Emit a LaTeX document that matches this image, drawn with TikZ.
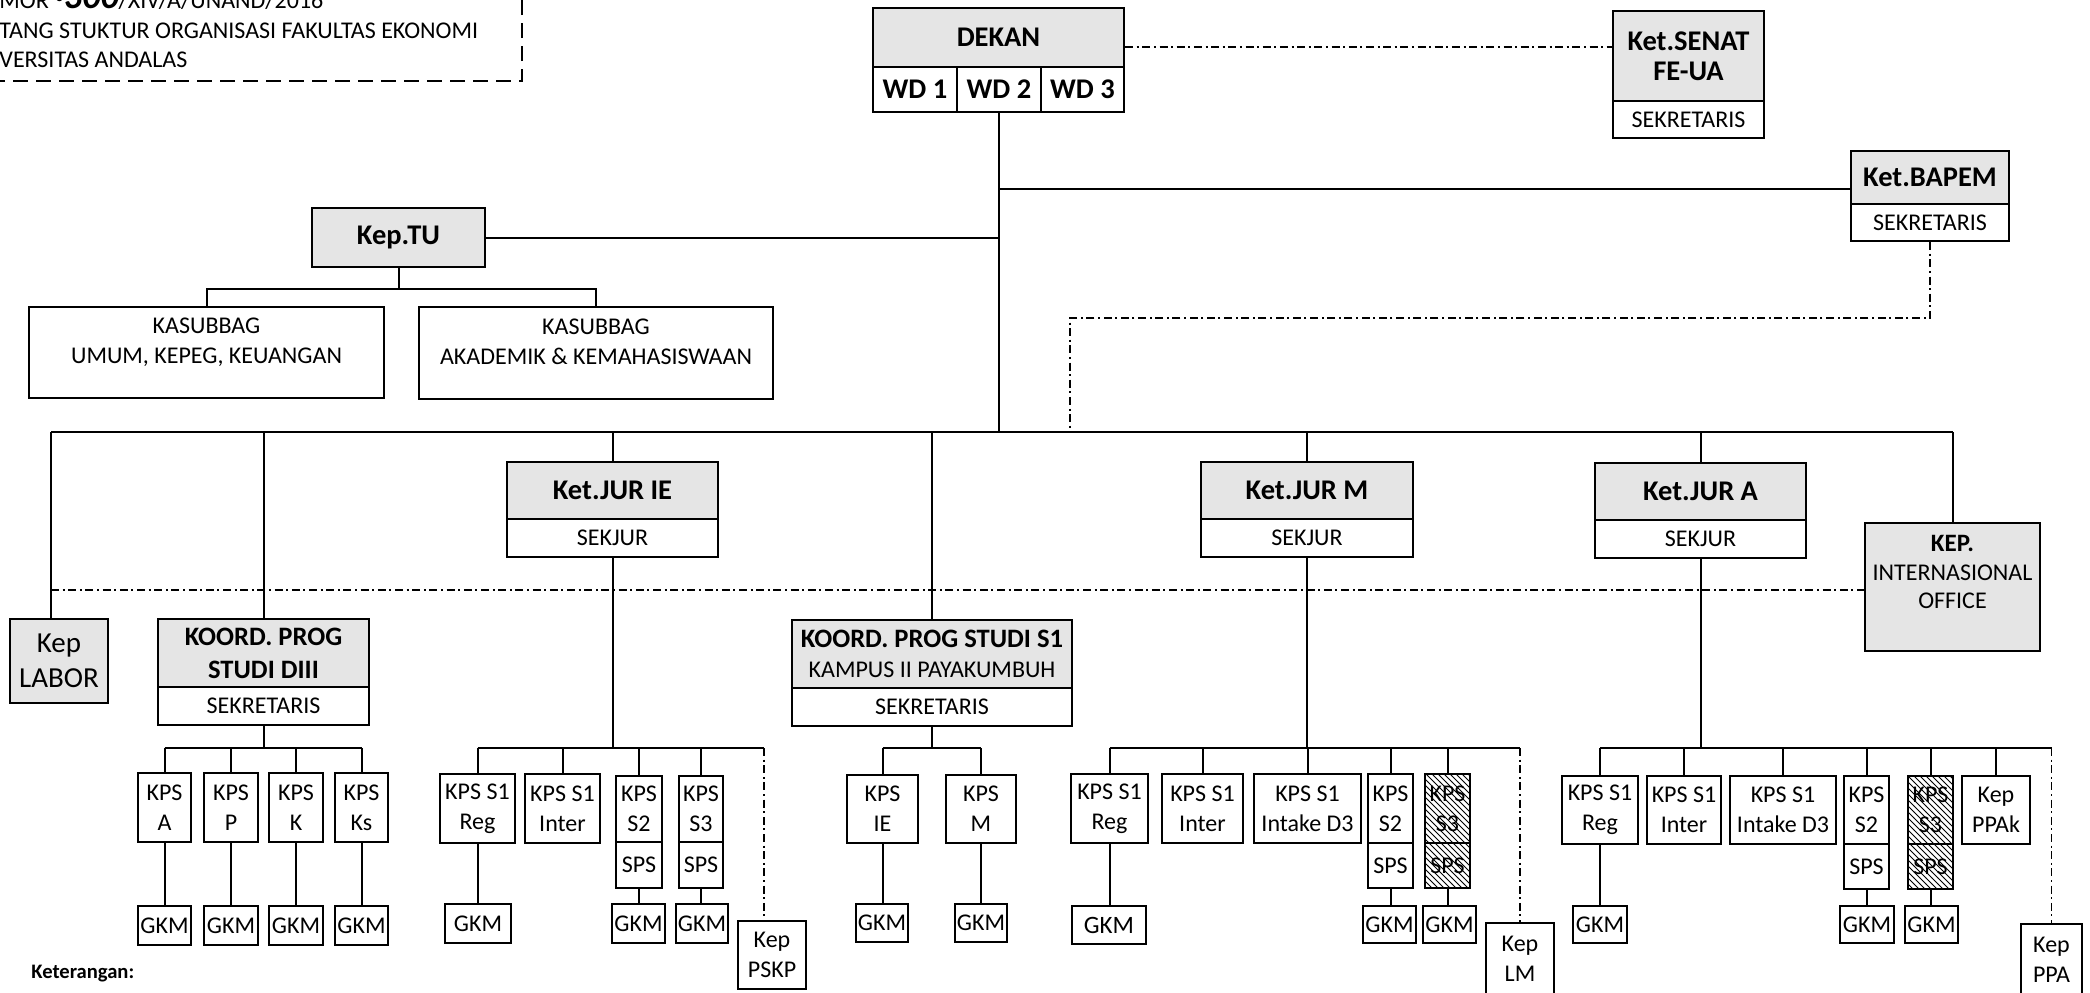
\documentclass[tikz,border=0pt]{standalone}
\usepackage{fontspec}
\setmainfont{Carlito}
\usetikzlibrary{patterns}
\newcommand\regf{\fontsize{12}{15}\selectfont}
\newcommand\ttlf{\fontsize{14.25}{15}\selectfont\bfseries}
\newcommand\kttlf{\fontsize{13.3}{15}\selectfont\bfseries}
\newcommand\BX[7][]{\node[box,#1,minimum width={(#5-#3)*0.5pt},minimum height={(#6-#4)*0.5pt}] (#2) at ({(#3+#5)/2},{(#4+#6)/2}) {#7};}
\begin{document}
\begin{tikzpicture}[x=0.5pt,y=-0.5pt,
 ln/.style={line width=1pt},
 dd/.style={line width=0.9pt,dash pattern=on 4pt off 1.8pt on 1pt off 1.8pt},
 box/.style={draw,line width=1.1pt,inner sep=0pt,align=center,font=\regf},
 gbox/.style={fill=black!10},
 ttl/.style={font=\ttlf},
 hatch/.style={pattern=north west lines,pattern color=black},
 txt/.style={inner sep=0pt,align=center,font=\regf}]
\useasboundingbox (0,0) rectangle (2090,992);
\clip (0,0) rectangle (2090,992);
% header
\draw[line width=1.4pt,dash pattern=on 7.5pt off 4pt] (-10,81) -- (522,81) -- (522,-10);
\node[txt,anchor=base west] (h1) at (-1,8) {MOR {\fontsize{18}{18}\selectfont\bfseries\itshape ·300}/XIV/A/UNAND/2016};
\node[txt,anchor=base west] (h2) at (-1,38) {TANG STUKTUR ORGANISASI FAKULTAS EKONOMI};
\node[txt,anchor=base west] (h3) at (-1,67) {VERSITAS ANDALAS};
% top boxes
\BX[gbox,ttl]{dekan}{873}{8}{1124}{67}{DEKAN}
\BX[ttl]{wda}{873}{67}{957}{112}{WD 1}
\BX[ttl]{wdb}{957}{67}{1041}{112}{WD 2}
\BX[ttl]{wdc}{1041}{67}{1124}{112}{WD 3}
\BX[gbox,ttl]{senat}{1613}{11}{1764}{101}{Ket.SENAT\\FE-UA}
\BX{senats}{1613}{101}{1764}{138}{SEKRETARIS}
\BX[gbox,ttl]{bapem}{1851}{151}{2009}{204}{Ket.BAPEM}
\BX{bapems}{1851}{204}{2009}{241}{SEKRETARIS}
\BX[gbox,ttl]{keptu}{312}{208}{485}{267}{Kep.TU}
\BX{kasa}{29}{307}{384}{398}{}
\node[txt] (kasat) at (206.5,342) {KASUBBAG\\UMUM, KEPEG, KEUANGAN};
\BX{kasb}{419}{307}{773}{399}{}
\node[txt] (kasbt) at (596,342) {KASUBBAG\\AKADEMIK \& KEMAHASISWAAN};
% second level
\BX[gbox,ttl]{jurie}{507}{462}{718}{519}{Ket.JUR IE}
\BX{juries}{507}{519}{718}{557}{SEKJUR}
\BX[gbox,ttl]{jurm}{1201}{462}{1413}{519}{Ket.JUR M}
\BX{jurms}{1201}{519}{1413}{557}{SEKJUR}
\BX[gbox,ttl]{jura}{1595}{463}{1806}{520}{Ket.JUR A}
\BX{juras}{1595}{520}{1806}{558}{SEKJUR}
\BX[gbox]{kepint}{1865}{523}{2040}{651}{}
\node[txt,font=\fontsize{12}{14.25}\selectfont] (kepintt) at (1952.5,572) {{\fontsize{12.5}{14.25}\selectfont\bfseries KEP.}\\INTERNASIONAL\\OFFICE};
\BX[gbox,font=\fontsize{14.5}{17.5}\selectfont]{labor}{10}{619}{108}{703}{Kep\\LABOR}
\BX[gbox,font=\fontsize{13.3}{16.5}\selectfont\bfseries]{diii}{158}{619}{369}{687}{KOORD. PROG\\STUDI DIII}
\BX{diiis}{158}{687}{369}{725}{SEKRETARIS}
\BX[gbox]{sip}{792}{620}{1072}{688}{{\kttlf KOORD. PROG STUDI S1}\\KAMPUS II PAYAKUMBUH}
\BX{sips}{792}{688}{1072}{726}{SEKRETARIS}
% DIII group
\BX{kpsa}{138}{773}{191}{842}{KPS\\A}
\BX{kpsp}{204}{773}{258}{842}{KPS\\P}
\BX{kpsk}{269}{773}{323}{842}{KPS\\K}
\BX{kpsks}{335}{773}{388}{842}{KPS\\Ks}
\BX{ga}{138}{906}{191}{945}{GKM}
\BX{gp}{204}{906}{258}{945}{GKM}
\BX{gk}{269}{906}{323}{945}{GKM}
\BX{gks}{335}{906}{388}{945}{GKM}
% IE group
\BX{iereg}{440}{774}{515}{843}{KPS S1\\Reg}
\BX{ieint}{525}{774}{600}{843}{KPS S1\\Inter}
\BX{ies2}{616}{776}{662}{842}{KPS\\S2}
\BX{ies2s}{616}{842}{662}{888}{SPS}
\BX{ies3}{679}{776}{723}{842}{KPS\\S3}
\BX{ies3s}{679}{842}{723}{888}{SPS}
\BX{iegr}{445}{904}{511}{943}{GKM}
\BX{iegs2}{612}{904}{665}{943}{GKM}
\BX{iegs3}{676}{904}{728}{943}{GKM}
\BX{pskp}{738}{921}{806}{989}{Kep\\PSKP}
% S1 Payakumbuh group
\BX{kie}{847}{775}{918}{843}{KPS\\IE}
\BX{km}{946}{775}{1016}{843}{KPS\\M}
\BX{kieg}{856}{904}{908}{942}{GKM}
\BX{kmg}{955}{904}{1007}{942}{GKM}
% M group
\BX{mreg}{1071}{774}{1148}{843}{KPS S1\\Reg}
\BX{mint}{1162}{774}{1243}{843}{KPS S1\\Inter}
\BX{md3}{1254}{774}{1361}{843}{KPS S1\\Intake D3}
\BX{ms2}{1368}{774}{1413}{843}{KPS\\S2}
\BX{ms2s}{1368}{843}{1413}{888}{SPS}
\BX[hatch]{ms3}{1425}{774}{1470}{843}{KPS\\S3}
\BX[hatch]{ms3s}{1425}{843}{1470}{888}{SPS}
\BX[font=\fontsize{12.5}{15}\selectfont]{mgr}{1072}{906}{1146}{944}{GKM}
\BX{mgs2}{1363}{906}{1416}{943}{GKM}
\BX{mgs3}{1423}{906}{1476}{943}{GKM}
\BX{lm}{1486}{923}{1554}{995}{Kep\\LM}
% A group
\BX{areg}{1562}{776}{1638}{844}{KPS S1\\Reg}
\BX{aint}{1647}{776}{1721}{844}{KPS S1\\Inter}
\BX{ad3}{1730}{776}{1836}{844}{KPS S1\\Intake D3}
\BX{as2}{1844}{776}{1889}{844}{KPS\\S2}
\BX{as2s}{1844}{844}{1889}{889}{SPS}
\BX[hatch]{as3}{1908}{776}{1953}{844}{KPS\\S3}
\BX[hatch]{as3s}{1908}{844}{1953}{889}{SPS}
\BX{ppak}{1962}{776}{2030}{844}{Kep\\PPAk}
\BX{agr}{1573}{906}{1627}{943}{GKM}
\BX{ags2}{1840}{906}{1894}{943}{GKM}
\BX{ags3}{1905}{906}{1958}{943}{GKM}
\BX{ppa}{2021}{924}{2082}{996}{Kep\\PPA}
\node[anchor=base west,inner sep=0pt,font=\fontsize{10.3}{12}\selectfont\bfseries] (ket) at (31,978) {Keterangan:};
% helper coordinates
\coordinate (busL) at (51,432);
\coordinate (busR) at (kepint.north |- busL);
\coordinate (ya) at (0,47);
\coordinate (yb) at (0,189);
\coordinate (yc) at (0,289);
\coordinate (yd) at (0,318);
\coordinate (ye) at (0,590);
\coordinate (yf) at (0,748);
\coordinate (bpx) at (1070,432);
\coordinate (piex) at (764,748);
% top connectors
\draw[dd] (dekan.east |- ya) -- (senat.west |- ya);
\draw[ln] (wdb.south) -- (wdb.south |- busL);
\draw[ln] (wdb.south |- yb) -- (bapem.west |- yb);
\draw[ln] (keptu.east) -- (keptu.east -| wdb.south);
\draw[ln] (keptu.south) -- (keptu.south |- yc);
\draw[ln] (kasa.north) |- (keptu.south |- yc) -| (kasb.north);
\draw[dd] (bapems.south) |- (bpx |- yd) -- (bpx);
\draw[ln] (busL) -- (busR);
\draw[ln] (busL) -- (busL |- labor.north);
\foreach \n in {diii,jurie,sip,jurm,jura,kepint} \draw[ln] (\n.north |- busL) -- (\n.north);
\draw[dd] (busL |- ye) -- (kepint.west |- ye);
% DIII
\draw[ln] (diiis.south) -- (diiis.south |- yf);
\draw[ln] (kpsa.north |- yf) -- (kpsks.north |- yf);
\foreach \a/\b in {kpsa/ga,kpsp/gp,kpsk/gk,kpsks/gks} {\draw[ln] (\a.north |- yf) -- (\a.north); \draw[ln] (\a.south) -- (\a.south |- \b.north);}
% IE
\draw[ln] (juries.south) -- (juries.south |- yf);
\draw[ln] (iereg.north |- yf) -- (piex);
\draw[dd] (piex) -- (piex |- pskp.north);
\foreach \a in {iereg,ieint,ies2,ies3} \draw[ln] (\a.north |- yf) -- (\a.north);
\draw[ln] (iereg.south) -- (iereg.south |- iegr.north);
\draw[ln] (ies2s.south) -- (ies2s.south |- iegs2.north);
\draw[ln] (ies3s.south) -- (ies3s.south |- iegs3.north);
% S1 P
\draw[ln] (sips.south) -- (sips.south |- yf);
\draw[ln] (kie.north |- yf) -- (km.north |- yf);
\foreach \a/\b in {kie/kieg,km/kmg} {\draw[ln] (\a.north |- yf) -- (\a.north); \draw[ln] (\a.south) -- (\a.south |- \b.north);}
% M
\draw[ln] (jurms.south) -- (jurms.south |- yf);
\draw[ln] (mreg.north |- yf) -- (lm.north |- yf);
\draw[dd] (lm.north |- yf) -- (lm.north);
\foreach \a in {mreg,mint,md3,ms2,ms3} \draw[ln] (\a.north |- yf) -- (\a.north);
\draw[ln] (mreg.south) -- (mreg.south |- mgr.north);
\draw[ln] (ms2s.south) -- (ms2s.south |- mgs2.north);
\draw[ln] (ms3s.south) -- (ms3s.south |- mgs3.north);
% A
\draw[ln] (juras.south) -- (juras.south |- yf);
\draw[ln] (areg.north |- yf) -- (ppa.north |- yf);
\draw[dd] (ppa.north |- yf) -- (ppa.north);
\foreach \a in {areg,aint,ad3,as2,as3,ppak} \draw[ln] (\a.north |- yf) -- (\a.north);
\draw[ln] (areg.south) -- (areg.south |- agr.north);
\draw[ln] (as2s.south) -- (as2s.south |- ags2.north);
\draw[ln] (as3s.south) -- (as3s.south |- ags3.north);
\end{tikzpicture}
\end{document}
